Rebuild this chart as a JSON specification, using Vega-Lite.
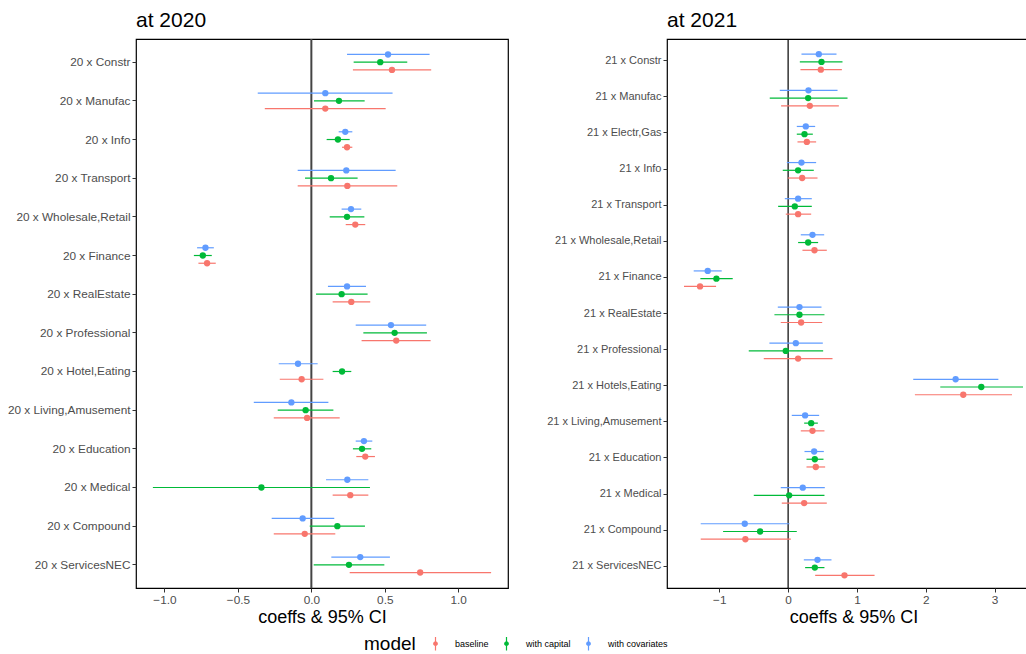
{
  "$schema": "https://vega.github.io/schema/vega-lite/v6.json",
  "background": "white",
  "padding": {"left": 6, "top": 9, "right": 0, "bottom": 0},
  "bounds": "flush",
  "config": {
    "font": "Liberation Sans",
    "view": {"stroke": "black", "strokeWidth": 1.2},
    "axis": {"grid": false, "domain": false, "tickColor": "#333333", "tickSize": 4, "labelColor": "#4d4d4d", "labelFontSize": 11.8, "labelPadding": 2, "titleFontWeight": "normal", "titleColor": "black"},
    "title": {"fontSize": 21, "fontWeight": "normal", "anchor": "start", "frame": "group", "color": "black", "offset": 7},
    "legend": {"orient": "none", "legendX": 228, "legendY": 597, "direction": "horizontal", "titleOrient": "left", "titleFontSize": 19, "titleFontWeight": "normal", "titleColor": "black", "labelFontSize": 9, "labelColor": "black", "symbolSize": 180, "symbolStrokeWidth": 1.2, "columnPadding": 10, "labelOffset": 12, "titlePadding": 12}
  },
  "datasets": {
    "coefs": [
      {"p": "2020", "term": "20 x Constr", "model": "with covariates", "est": 0.522, "lo": 0.243, "hi": 0.805},
      {"p": "2020", "term": "20 x Constr", "model": "with capital", "est": 0.469, "lo": 0.288, "hi": 0.653},
      {"p": "2020", "term": "20 x Constr", "model": "baseline", "est": 0.549, "lo": 0.283, "hi": 0.816},
      {"p": "2020", "term": "20 x Manufac", "model": "with covariates", "est": 0.095, "lo": -0.365, "hi": 0.553},
      {"p": "2020", "term": "20 x Manufac", "model": "with capital", "est": 0.188, "lo": 0.018, "hi": 0.363},
      {"p": "2020", "term": "20 x Manufac", "model": "baseline", "est": 0.095, "lo": -0.317, "hi": 0.506},
      {"p": "2020", "term": "20 x Info", "model": "with covariates", "est": 0.231, "lo": 0.186, "hi": 0.279},
      {"p": "2020", "term": "20 x Info", "model": "with capital", "est": 0.181, "lo": 0.104, "hi": 0.261},
      {"p": "2020", "term": "20 x Info", "model": "baseline", "est": 0.243, "lo": 0.209, "hi": 0.279},
      {"p": "2020", "term": "20 x Transport", "model": "with covariates", "est": 0.238, "lo": -0.093, "hi": 0.574},
      {"p": "2020", "term": "20 x Transport", "model": "with capital", "est": 0.134, "lo": -0.043, "hi": 0.315},
      {"p": "2020", "term": "20 x Transport", "model": "baseline", "est": 0.245, "lo": -0.093, "hi": 0.585},
      {"p": "2020", "term": "20 x Wholesale,Retail", "model": "with covariates", "est": 0.270, "lo": 0.206, "hi": 0.340},
      {"p": "2020", "term": "20 x Wholesale,Retail", "model": "with capital", "est": 0.243, "lo": 0.125, "hi": 0.361},
      {"p": "2020", "term": "20 x Wholesale,Retail", "model": "baseline", "est": 0.299, "lo": 0.234, "hi": 0.367},
      {"p": "2020", "term": "20 x Finance", "model": "with covariates", "est": -0.721, "lo": -0.778, "hi": -0.664},
      {"p": "2020", "term": "20 x Finance", "model": "with capital", "est": -0.739, "lo": -0.800, "hi": -0.678},
      {"p": "2020", "term": "20 x Finance", "model": "baseline", "est": -0.710, "lo": -0.769, "hi": -0.651},
      {"p": "2020", "term": "20 x RealEstate", "model": "with covariates", "est": 0.243, "lo": 0.113, "hi": 0.372},
      {"p": "2020", "term": "20 x RealEstate", "model": "with capital", "est": 0.206, "lo": 0.032, "hi": 0.383},
      {"p": "2020", "term": "20 x RealEstate", "model": "baseline", "est": 0.272, "lo": 0.145, "hi": 0.401},
      {"p": "2020", "term": "20 x Professional", "model": "with covariates", "est": 0.542, "lo": 0.302, "hi": 0.782},
      {"p": "2020", "term": "20 x Professional", "model": "with capital", "est": 0.567, "lo": 0.354, "hi": 0.787},
      {"p": "2020", "term": "20 x Professional", "model": "baseline", "est": 0.578, "lo": 0.342, "hi": 0.812},
      {"p": "2020", "term": "20 x Hotel,Eating", "model": "with covariates", "est": -0.091, "lo": -0.222, "hi": 0.043},
      {"p": "2020", "term": "20 x Hotel,Eating", "model": "with capital", "est": 0.209, "lo": 0.145, "hi": 0.272},
      {"p": "2020", "term": "20 x Hotel,Eating", "model": "baseline", "est": -0.066, "lo": -0.215, "hi": 0.082},
      {"p": "2020", "term": "20 x Living,Amusement", "model": "with covariates", "est": -0.136, "lo": -0.392, "hi": 0.116},
      {"p": "2020", "term": "20 x Living,Amusement", "model": "with capital", "est": -0.039, "lo": -0.229, "hi": 0.150},
      {"p": "2020", "term": "20 x Living,Amusement", "model": "baseline", "est": -0.029, "lo": -0.256, "hi": 0.193},
      {"p": "2020", "term": "20 x Education", "model": "with covariates", "est": 0.358, "lo": 0.302, "hi": 0.415},
      {"p": "2020", "term": "20 x Education", "model": "with capital", "est": 0.345, "lo": 0.283, "hi": 0.408},
      {"p": "2020", "term": "20 x Education", "model": "baseline", "est": 0.367, "lo": 0.306, "hi": 0.433},
      {"p": "2020", "term": "20 x Medical", "model": "with covariates", "est": 0.245, "lo": 0.100, "hi": 0.388},
      {"p": "2020", "term": "20 x Medical", "model": "with capital", "est": -0.340, "lo": -1.079, "hi": 0.399},
      {"p": "2020", "term": "20 x Medical", "model": "baseline", "est": 0.265, "lo": 0.145, "hi": 0.388},
      {"p": "2020", "term": "20 x Compound", "model": "with covariates", "est": -0.059, "lo": -0.270, "hi": 0.156},
      {"p": "2020", "term": "20 x Compound", "model": "with capital", "est": 0.177, "lo": -0.011, "hi": 0.365},
      {"p": "2020", "term": "20 x Compound", "model": "baseline", "est": -0.045, "lo": -0.256, "hi": 0.163},
      {"p": "2020", "term": "20 x ServicesNEC", "model": "with covariates", "est": 0.333, "lo": 0.136, "hi": 0.535},
      {"p": "2020", "term": "20 x ServicesNEC", "model": "with capital", "est": 0.256, "lo": 0.016, "hi": 0.497},
      {"p": "2020", "term": "20 x ServicesNEC", "model": "baseline", "est": 0.741, "lo": 0.261, "hi": 1.224},
      {"p": "2021", "term": "21 x Constr", "model": "with covariates", "est": 0.446, "lo": 0.194, "hi": 0.703},
      {"p": "2021", "term": "21 x Constr", "model": "with capital", "est": 0.485, "lo": 0.170, "hi": 0.790},
      {"p": "2021", "term": "21 x Constr", "model": "baseline", "est": 0.475, "lo": 0.179, "hi": 0.781},
      {"p": "2021", "term": "21 x Manufac", "model": "with covariates", "est": 0.296, "lo": -0.121, "hi": 0.718},
      {"p": "2021", "term": "21 x Manufac", "model": "with capital", "est": 0.291, "lo": -0.267, "hi": 0.863},
      {"p": "2021", "term": "21 x Manufac", "model": "baseline", "est": 0.315, "lo": -0.102, "hi": 0.737},
      {"p": "2021", "term": "21 x Electr,Gas", "model": "with covariates", "est": 0.257, "lo": 0.126, "hi": 0.393},
      {"p": "2021", "term": "21 x Electr,Gas", "model": "with capital", "est": 0.238, "lo": 0.126, "hi": 0.359},
      {"p": "2021", "term": "21 x Electr,Gas", "model": "baseline", "est": 0.272, "lo": 0.136, "hi": 0.407},
      {"p": "2021", "term": "21 x Info", "model": "with covariates", "est": 0.194, "lo": -0.019, "hi": 0.407},
      {"p": "2021", "term": "21 x Info", "model": "with capital", "est": 0.145, "lo": -0.078, "hi": 0.373},
      {"p": "2021", "term": "21 x Info", "model": "baseline", "est": 0.204, "lo": -0.005, "hi": 0.427},
      {"p": "2021", "term": "21 x Transport", "model": "with covariates", "est": 0.145, "lo": -0.048, "hi": 0.344},
      {"p": "2021", "term": "21 x Transport", "model": "with capital", "est": 0.097, "lo": -0.145, "hi": 0.344},
      {"p": "2021", "term": "21 x Transport", "model": "baseline", "est": 0.145, "lo": -0.034, "hi": 0.335},
      {"p": "2021", "term": "21 x Wholesale,Retail", "model": "with covariates", "est": 0.354, "lo": 0.184, "hi": 0.524},
      {"p": "2021", "term": "21 x Wholesale,Retail", "model": "with capital", "est": 0.291, "lo": 0.145, "hi": 0.436},
      {"p": "2021", "term": "21 x Wholesale,Retail", "model": "baseline", "est": 0.383, "lo": 0.208, "hi": 0.562},
      {"p": "2021", "term": "21 x Finance", "model": "with covariates", "est": -1.168, "lo": -1.372, "hi": -0.965},
      {"p": "2021", "term": "21 x Finance", "model": "with capital", "est": -1.042, "lo": -1.275, "hi": -0.805},
      {"p": "2021", "term": "21 x Finance", "model": "baseline", "est": -1.280, "lo": -1.513, "hi": -1.047},
      {"p": "2021", "term": "21 x RealEstate", "model": "with covariates", "est": 0.165, "lo": -0.150, "hi": 0.485},
      {"p": "2021", "term": "21 x RealEstate", "model": "with capital", "est": 0.165, "lo": -0.199, "hi": 0.528},
      {"p": "2021", "term": "21 x RealEstate", "model": "baseline", "est": 0.189, "lo": -0.107, "hi": 0.495},
      {"p": "2021", "term": "21 x Professional", "model": "with covariates", "est": 0.112, "lo": -0.272, "hi": 0.504},
      {"p": "2021", "term": "21 x Professional", "model": "with capital", "est": -0.034, "lo": -0.572, "hi": 0.509},
      {"p": "2021", "term": "21 x Professional", "model": "baseline", "est": 0.145, "lo": -0.354, "hi": 0.645},
      {"p": "2021", "term": "21 x Hotels,Eating", "model": "with covariates", "est": 2.434, "lo": 1.818, "hi": 3.055},
      {"p": "2021", "term": "21 x Hotels,Eating", "model": "with capital", "est": 2.807, "lo": 2.211, "hi": 3.413},
      {"p": "2021", "term": "21 x Hotels,Eating", "model": "baseline", "est": 2.545, "lo": 1.842, "hi": 3.253},
      {"p": "2021", "term": "21 x Living,Amusement", "model": "with covariates", "est": 0.247, "lo": 0.053, "hi": 0.451},
      {"p": "2021", "term": "21 x Living,Amusement", "model": "with capital", "est": 0.335, "lo": 0.233, "hi": 0.432},
      {"p": "2021", "term": "21 x Living,Amusement", "model": "baseline", "est": 0.354, "lo": 0.184, "hi": 0.528},
      {"p": "2021", "term": "21 x Education", "model": "with covariates", "est": 0.378, "lo": 0.238, "hi": 0.519},
      {"p": "2021", "term": "21 x Education", "model": "with capital", "est": 0.388, "lo": 0.267, "hi": 0.514},
      {"p": "2021", "term": "21 x Education", "model": "baseline", "est": 0.402, "lo": 0.267, "hi": 0.538},
      {"p": "2021", "term": "21 x Medical", "model": "with covariates", "est": 0.213, "lo": -0.107, "hi": 0.533},
      {"p": "2021", "term": "21 x Medical", "model": "with capital", "est": 0.015, "lo": -0.499, "hi": 0.528},
      {"p": "2021", "term": "21 x Medical", "model": "baseline", "est": 0.233, "lo": -0.092, "hi": 0.562},
      {"p": "2021", "term": "21 x Compound", "model": "with covariates", "est": -0.630, "lo": -1.270, "hi": 0.019},
      {"p": "2021", "term": "21 x Compound", "model": "with capital", "est": -0.407, "lo": -0.945, "hi": 0.126},
      {"p": "2021", "term": "21 x Compound", "model": "baseline", "est": -0.621, "lo": -1.270, "hi": 0.039},
      {"p": "2021", "term": "21 x ServicesNEC", "model": "with covariates", "est": 0.427, "lo": 0.228, "hi": 0.630},
      {"p": "2021", "term": "21 x ServicesNEC", "model": "with capital", "est": 0.388, "lo": 0.247, "hi": 0.528},
      {"p": "2021", "term": "21 x ServicesNEC", "model": "baseline", "est": 0.819, "lo": 0.393, "hi": 1.256}
    ],
    "zero": [{"z": 0}]
  },
  "spacing": 159,
  "resolve": {"legend": {"color": "independent"}},
  "hconcat": [
    {
      "title": "at 2020",
      "width": 372,
      "height": 549,
      "layer": [
        {
          "data": {"name": "zero"},
          "mark": {"type": "rule", "color": "#444444", "strokeWidth": 2},
          "encoding": {"x": {"field": "z", "type": "quantitative"}}
        },
        {
          "data": {"name": "coefs"},
          "transform": [{"filter": "datum.p == '2020'"}],
          "mark": {"type": "rule", "strokeWidth": 1.2},
          "encoding": {
            "y": {"field": "term", "type": "nominal", "sort": null, "title": null, "scale": {"paddingInner": 0, "paddingOuter": 0.1}},
            "yOffset": {"field": "model", "type": "nominal", "scale": {"domain": ["with covariates", "with capital", "baseline"], "paddingInner": 0, "paddingOuter": 1.45}},
            "x": {"field": "lo", "type": "quantitative", "title": "coeffs & 95% CI", "scale": {"domain": [-1.194, 1.339], "nice": false, "zero": false}, "axis": {"values": [-1, -0.5, 0, 0.5, 1], "format": ".1f", "titleFontSize": 18, "titlePadding": 3}},
            "x2": {"field": "hi"},
            "color": {"field": "model", "type": "nominal", "title": "model", "scale": {"domain": ["baseline", "with capital", "with covariates"], "range": ["#F8766D", "#00BA38", "#619CFF"]}, "legend": {"symbolType": "M0,-1V1M-0.26,0A0.26,0.26,0,1,1,0.26,0A0.26,0.26,0,1,1,-0.26,0Z"}}
          }
        },
        {
          "data": {"name": "coefs"},
          "transform": [{"filter": "datum.p == '2020'"}],
          "mark": {"type": "point", "filled": true, "opacity": 1, "size": 40},
          "encoding": {
            "y": {"field": "term", "type": "nominal", "sort": null},
            "yOffset": {"field": "model", "type": "nominal"},
            "x": {"field": "est", "type": "quantitative"},
            "color": {"field": "model", "type": "nominal"}
          }
        }
      ]
    },
    {
      "title": "at 2021",
      "width": 373,
      "height": 549,
      "layer": [
        {
          "data": {"name": "zero"},
          "mark": {"type": "rule", "color": "black", "strokeWidth": 1.2},
          "encoding": {"x": {"field": "z", "type": "quantitative"}}
        },
        {
          "data": {"name": "coefs"},
          "transform": [{"filter": "datum.p == '2021'"}],
          "mark": {"type": "rule", "strokeWidth": 1.2},
          "encoding": {
            "y": {"field": "term", "type": "nominal", "sort": null, "title": null, "scale": {"paddingInner": 0, "paddingOuter": 0.1}, "axis": {"labelFontSize": 11}},
            "yOffset": {"field": "model", "type": "nominal", "scale": {"domain": ["with covariates", "with capital", "baseline"], "paddingInner": 0, "paddingOuter": 1.45}},
            "x": {"field": "lo", "type": "quantitative", "title": "coeffs & 95% CI", "scale": {"domain": [-1.76, 3.66], "nice": false, "zero": false}, "axis": {"values": [-1, 0, 1, 2, 3], "format": "d", "titleFontSize": 18, "titlePadding": 3}},
            "x2": {"field": "hi"},
            "color": {"field": "model", "type": "nominal", "legend": null}
          }
        },
        {
          "data": {"name": "coefs"},
          "transform": [{"filter": "datum.p == '2021'"}],
          "mark": {"type": "point", "filled": true, "opacity": 1, "size": 40},
          "encoding": {
            "y": {"field": "term", "type": "nominal", "sort": null},
            "yOffset": {"field": "model", "type": "nominal"},
            "x": {"field": "est", "type": "quantitative"},
            "color": {"field": "model", "type": "nominal", "legend": null}
          }
        }
      ]
    }
  ]
}
